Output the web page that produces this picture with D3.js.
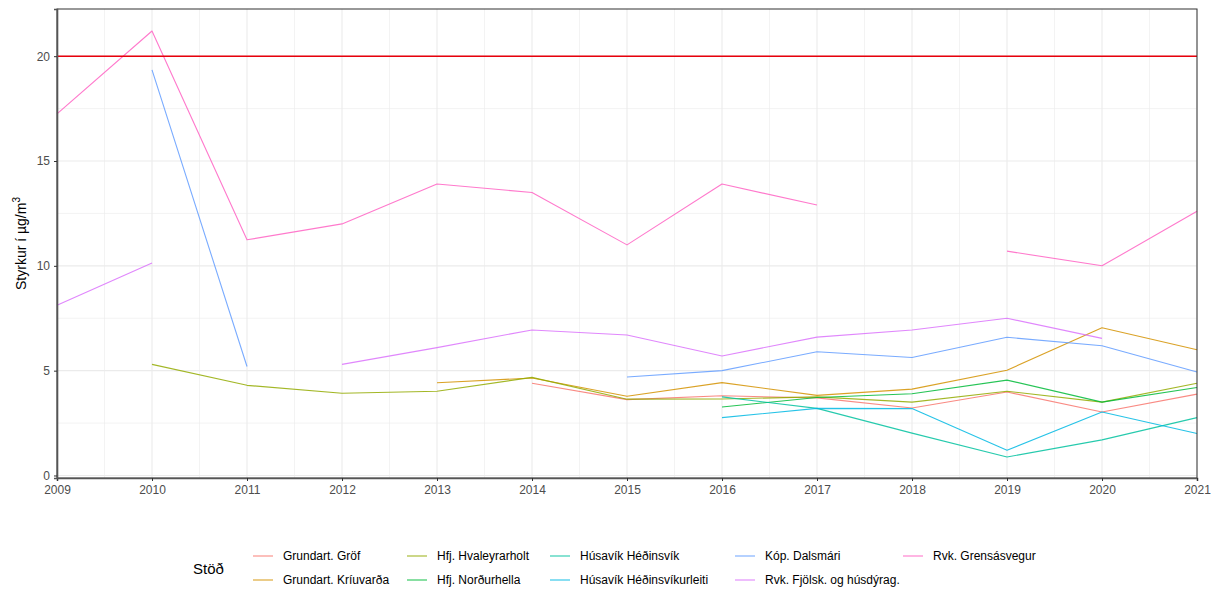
<!DOCTYPE html>
<html>
<head>
<meta charset="utf-8">
<script src="https://cdn.jsdelivr.net/npm/d3@7"></script>
<style>
  html, body { margin: 0; padding: 0; background: #fff; }
  svg { display: block; font-family: "Liberation Sans", Arial, sans-serif; }
</style>
</head>
<body>
<svg id="chart" width="1218" height="592"></svg>
<script>
// ---------- data ----------
const years = [2009, 2010, 2011, 2012, 2013, 2014, 2015, 2016, 2017, 2018, 2019, 2020, 2021];
const stations = [
  "Grundart. Gröf", "Grundart. Kríuvarða", "Hfj. Hvaleyrarholt", "Hfj. Norðurhella",
  "Húsavík Héðinsvík", "Húsavík Héðinsvíkurleiti", "Kóp. Dalsmári",
  "Rvk. Fjölsk. og húsdýrag.", "Rvk. Grensásvegur"
];
const grof          = [null, null, null, null, null, 4.40, 3.62, 3.80, 3.70, 3.22, 3.98, 3.03, 3.88];
const kriuvarda     = [null, null, null, null, 4.42, 4.65, 3.78, 4.43, 3.82, 4.12, 5.02, 7.05, 6.00];
const hvaleyrarholt = [null, 5.30, 4.30, 3.92, 4.02, 4.68, 3.64, 3.65, 3.75, 3.50, 4.02, 3.50, 4.40];
const nordurhella   = [null, null, null, null, null, null, null, 3.27, 3.72, 3.90, 4.55, 3.50, 4.20];
const hedinsvik     = [null, null, null, null, null, null, null, 3.75, 3.20, 2.02, 0.88, 1.70, 2.76];
const hedinsvikurl  = [null, null, null, null, null, null, null, 2.76, 3.20, 3.19, 1.20, 3.03, 2.00];
const dalsmari      = [null, 19.35, 5.20, null, null, null, 4.70, 5.00, 5.90, 5.63, 6.59, 6.19, 4.94];
const fjolsk        = [8.12, 10.13, null, 5.30, 6.10, 6.94, 6.70, 5.70, 6.60, 6.94, 7.50, 6.54, null];
const grensas       = [17.25, 21.2, 11.24, 12.0, 13.9, 13.5, 11.0, 13.9, 12.9, null, 10.7, 10.0, 12.6];
const seriesValues = [grof, kriuvarda, hvaleyrarholt, nordurhella, hedinsvik, hedinsvikurl, dalsmari, fjolsk, grensas];
const colors = ["#F8766D", "#D39200", "#93AA00", "#00BA38", "#00C19F", "#00B9E3", "#619CFF", "#DB72FB", "#FF61C3"];
const yTicks = [0, 5, 10, 15, 20];
const yMinor = [2.5, 7.5, 12.5, 17.5];
const limitValue = 20;
const legendTitle = "Stöð";

// ---------- layout ----------
const svg = d3.select("#chart");
const P = { left: 57, right: 1197, top: 9, bottom: 478 };
const x = d3.scaleLinear().domain([2009, 2021]).range([P.left, P.right]);
const y = d3.scaleLinear().domain([-0.12, 22.25]).range([P.bottom, P.top]);

// grid
const grid = svg.append("g");
const xMinor = years.slice(0, -1).map(v => v + 0.5);
grid.selectAll(".xmin").data(xMinor).enter().append("line")
  .attr("x1", d => x(d)).attr("x2", d => x(d)).attr("y1", P.top).attr("y2", P.bottom)
  .attr("stroke", "#ebebeb").attr("stroke-width", 0.6);
grid.selectAll(".ymin").data(yMinor).enter().append("line")
  .attr("x1", P.left).attr("x2", P.right).attr("y1", d => y(d)).attr("y2", d => y(d))
  .attr("stroke", "#ebebeb").attr("stroke-width", 0.6);
grid.selectAll(".xmaj").data(years).enter().append("line")
  .attr("x1", d => x(d)).attr("x2", d => x(d)).attr("y1", P.top).attr("y2", P.bottom)
  .attr("stroke", "#ebebeb").attr("stroke-width", 1.1);
grid.selectAll(".ymaj").data(yTicks).enter().append("line")
  .attr("x1", P.left).attr("x2", P.right).attr("y1", d => y(d)).attr("y2", d => y(d))
  .attr("stroke", "#ebebeb").attr("stroke-width", 1.1);

// lines
const line = d3.line()
  .defined(d => d.v !== null)
  .x(d => x(d.year)).y(d => y(d.v));
const lg = svg.append("g");
seriesValues.forEach((vals, i) => {
  const pts = years.map((yr, j) => ({ year: yr, v: vals[j] }));
  lg.append("path").attr("d", line(pts))
    .attr("fill", "none").attr("stroke", colors[i]).attr("stroke-width", 1.1)
    .attr("stroke-opacity", 0.85).attr("stroke-linejoin", "round");
});

// limit line
svg.append("line")
  .attr("x1", P.left).attr("x2", P.right).attr("y1", y(limitValue)).attr("y2", y(limitValue))
  .attr("stroke", "#e8000b").attr("stroke-width", 1.5);

// panel border
svg.append("rect").attr("x", P.left).attr("y", P.top)
  .attr("width", P.right - P.left).attr("height", P.bottom - P.top)
  .attr("fill", "none").attr("stroke", "#333").attr("stroke-width", 1);

// axes
const xAxis = svg.append("g").attr("transform", `translate(0,${P.bottom})`)
  .call(d3.axisBottom(x).tickValues(years).tickFormat(d3.format("d")).tickSize(3).tickPadding(4));
const yAxis = svg.append("g").attr("transform", `translate(${P.left},0)`)
  .call(d3.axisLeft(y).tickValues(yTicks).tickSize(3).tickPadding(4));
[xAxis, yAxis].forEach(a => {
  a.select(".domain").attr("stroke", "#555").attr("stroke-width", 1.6);
  a.selectAll(".tick line").attr("stroke", "#333");
  a.selectAll("text").attr("fill", "#4d4d4d").attr("font-size", "12px")
    .attr("font-family", "Liberation Sans, Arial, sans-serif");
});

// y title
const yt = svg.append("text")
  .attr("transform", `translate(26,${(P.top + P.bottom) / 2}) rotate(-90)`)
  .attr("text-anchor", "middle").attr("font-size", "14px").attr("fill", "#000");
yt.append("tspan").text("Styrkur í µg/m");
yt.append("tspan").attr("font-size", "10px").attr("dy", "-6").text("3");

// legend
const leg = svg.append("g");
leg.append("text").attr("x", 193).attr("y", 574).attr("font-size", "15px").attr("fill", "#000").text(legendTitle);
const colX = [253, 407, 550, 735, 903];
const rowY = [556, 580];
stations.forEach((s, i) => {
  const c = Math.floor(i / 2), r = i % 2;
  const kx = colX[c], ky = rowY[r];
  leg.append("line").attr("x1", kx).attr("x2", kx + 20).attr("y1", ky).attr("y2", ky)
    .attr("stroke", colors[i]).attr("stroke-width", 1.1).attr("stroke-opacity", 0.85);
  leg.append("text").attr("x", kx + 30).attr("y", ky + 4).attr("font-size", "12px")
    .attr("fill", "#000").text(s);
});
</script>
</body>
</html>
